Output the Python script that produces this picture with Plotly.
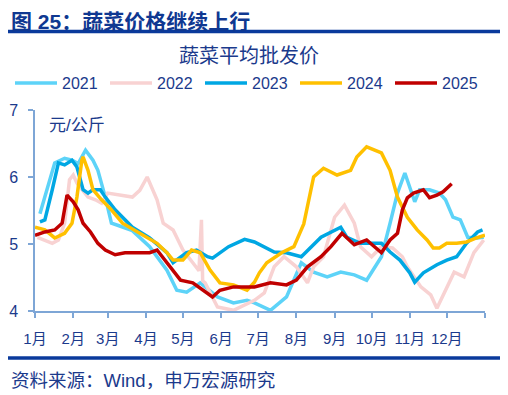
import plotly.graph_objects as go

# ---- data (day of year, price 元/公斤) ----
days_2021 = [4, 11, 16, 24, 30, 35, 41, 47, 51, 57, 62, 67, 79, 93, 107, 115, 123, 134, 148, 161, 172, 178,
             191, 204, 216, 226, 237, 248, 259, 269, 281, 288, 294, 300, 304, 308, 312, 320, 328, 333, 339,
             345, 351, 358, 364]
vals_2021 = [5.45, 5.91, 6.21, 6.28, 6.25, 6.2, 6.4, 6.25, 6.1, 5.7, 5.31, 5.28, 5.2, 4.96, 4.61, 4.31, 4.28,
             4.42, 4.21, 4.12, 4.16, 4.12, 4.01, 4.21, 4.72, 4.58, 4.51, 4.58, 4.54, 4.46, 4.81, 5.31, 5.76,
             6.06, 5.85, 5.63, 5.81, 5.81, 5.76, 5.66, 5.4, 5.36, 5.1, 5.09, 5.1]

days_2022 = [2, 8, 14, 19, 24, 28, 31, 34, 38, 43, 49, 54, 59, 71, 79, 85, 91, 99, 104, 112, 120, 128, 133,
             135, 136, 138, 148, 161, 178, 186, 194, 202, 212, 221, 226, 234, 243, 251, 259, 264, 273, 281,
             290, 298, 302, 313, 321, 326, 332, 340, 348, 356, 364]
vals_2022 = [5.1, 5.06, 5.01, 5.06, 5.31, 5.96, 6.03, 5.91, 5.81, 5.7, 5.66, 5.61, 5.76, 5.73, 5.7, 5.8, 6.0,
             5.66, 5.31, 5.21, 4.91, 4.72, 4.6, 5.36, 4.45, 4.42, 4.06, 4.01, 4.16, 4.27, 4.66, 4.81, 4.66,
             4.42, 4.66, 4.81, 5.4, 5.58, 5.31, 4.96, 4.81, 4.96, 4.94, 4.81, 4.66, 4.36, 4.24, 4.04, 4.27,
             4.58, 4.51, 4.87, 5.06]

days_2023 = [4, 8, 14, 19, 24, 30, 34, 39, 43, 47, 53, 57, 65, 73, 79, 93, 107, 112, 123, 131, 140, 144, 157,
             170, 178, 194, 204, 216, 232, 248, 253, 264, 281, 288, 296, 304, 308, 315, 326, 334, 342, 350,
             359, 363]
vals_2023 = [5.33, 5.36, 5.81, 6.21, 6.18, 6.25, 6.15, 5.81, 5.76, 5.81, 5.81, 5.7, 5.51, 5.36, 5.25, 5.09,
             4.87, 4.72, 4.87, 4.91, 4.81, 4.79, 4.96, 5.07, 5.03, 4.88, 4.87, 4.81, 5.1, 5.25, 5.1, 5.01,
             5.01, 4.88, 4.76, 4.57, 4.43, 4.57, 4.69, 4.76, 4.81, 5.01, 5.18, 5.21]

days_2024 = [0, 8, 16, 24, 30, 34, 38, 39, 43, 47, 54, 62, 71, 85, 99, 107, 112, 120, 127, 134, 142, 150,
             161, 172, 178, 182, 188, 200, 210, 218, 226, 234, 245, 256, 261, 269, 281, 288, 294, 302, 310,
             318, 323, 328, 334, 342, 350, 358, 365]
vals_2024 = [5.25, 5.21, 5.09, 5.16, 5.31, 5.7, 6.25, 6.3, 6.1, 5.81, 5.66, 5.51, 5.31, 5.16, 5.01, 4.87,
             4.76, 4.76, 4.91, 4.87, 4.61, 4.42, 4.39, 4.31, 4.43, 4.57, 4.72, 4.87, 4.96, 5.3, 6.0, 6.13,
             6.03, 6.1, 6.3, 6.45, 6.36, 6.1, 5.7, 5.4, 5.21, 5.06, 4.94, 4.94, 5.01, 5.01, 5.03, 5.09, 5.13]

days_2025 = [0, 8, 16, 22, 26, 31, 35, 39, 45, 51, 57, 65, 73, 79, 93, 99, 107, 118, 128, 140, 144, 150, 161,
             178, 191, 204, 212, 221, 232, 240, 249, 259, 269, 281, 288, 294, 298, 302, 307, 315, 320, 326,
             331, 338]
vals_2025 = [5.13, 5.18, 5.21, 5.31, 5.73, 5.63, 5.51, 5.31, 5.18, 5.01, 4.91, 4.84, 4.87, 4.87, 4.87, 4.91,
             4.72, 4.46, 4.42, 4.27, 4.21, 4.31, 4.36, 4.36, 4.42, 4.39, 4.46, 4.66, 4.81, 4.96, 5.16, 4.99,
             5.06, 4.87, 5.06, 5.16, 5.51, 5.69, 5.76, 5.81, 5.69, 5.73, 5.78, 5.9]

month_starts = [0, 31, 59, 90, 120, 151, 181, 212, 243, 273, 304, 334, 365]
month_labels = ["1月", "2月", "3月", "4月", "5月", "6月", "7月", "8月", "9月", "10月", "11月", "12月", ""]

series = [
    ("2021", days_2021, vals_2021, "#5DD3F8"),
    ("2022", days_2022, vals_2022, "#F8D2D2"),
    ("2023", days_2023, vals_2023, "#00A7E3"),
    ("2024", days_2024, vals_2024, "#FFC000"),
    ("2025", days_2025, vals_2025, "#C00000"),
]

FONT = "Arial, 'Liberation Sans', 'Noto Sans CJK SC', sans-serif"
DARK = "#1B3A8C"
AXIS = "#7EA6D6"

fig = go.Figure()
for name, d, v, c in series:
    fig.add_trace(go.Scatter(x=d, y=v, name=name, mode="lines",
                             line=dict(color=c, width=3.5)))

# page body adds an 8px offset, so the figure is 8px smaller and shifted
OFF = 8
W, H = 508 - OFF, 395 - OFF
L, R, T, B = 35 - OFF, 23, 110 - OFF, 84
pw, ph = W - L - R, H - T - B

def px(x):  # x in reference-window pixels -> paper
    return ((x - OFF) - L) / pw

def py(y):  # y in reference-window pixels -> paper
    return (H - B - (y - OFF)) / ph

fig.update_layout(
    width=W, height=H,
    margin=dict(l=L, r=R, t=T, b=B, pad=0, autoexpand=False),
    paper_bgcolor="white", plot_bgcolor="white",
    font=dict(family=FONT, color=DARK, size=15),
    showlegend=True,
    legend=dict(orientation="h", x=px(10), xanchor="left", y=py(83), yanchor="middle",
                font=dict(size=16, color=DARK), itemwidth=42, entrywidth=38,
                bgcolor="rgba(0,0,0,0)", tracegroupgap=0),
    xaxis=dict(range=[0, 365], tickmode="array", tickvals=month_starts, ticktext=month_labels,
               showgrid=False, zeroline=False, showline=True, linecolor=AXIS, linewidth=1.5,
               ticks="outside", ticklen=5, tickcolor=AXIS, tickwidth=1.5, automargin=False,
               tickfont=dict(size=15, color=DARK), ticklabelstandoff=8),
    yaxis=dict(range=[4, 7], tickvals=[4, 5, 6, 7], showgrid=False, zeroline=False,
               showline=True, linecolor=AXIS, linewidth=1.5, automargin=False,
               ticks="outside", ticklen=5, tickcolor=AXIS, tickwidth=1.5,
               tickfont=dict(size=16, color=DARK), ticklabelstandoff=7),
)

fig.add_annotation(text="<b>图 25：蔬菜价格继续上行</b>", xref="paper", yref="paper",
                   x=px(9), y=py(8), xanchor="left", yanchor="top", showarrow=False,
                   font=dict(size=21, color="#0F3891"))
fig.add_annotation(text="蔬菜平均批发价", xref="paper", yref="paper",
                   x=px(249), y=py(56), xanchor="center", yanchor="middle", showarrow=False,
                   font=dict(size=20, color=DARK))
fig.add_annotation(text="元/公斤", xref="paper", yref="paper",
                   x=px(47), y=py(125), xanchor="left", yanchor="middle", showarrow=False,
                   font=dict(size=17, color=DARK))
fig.add_annotation(text="资料来源：Wind，申万宏源研究", xref="paper", yref="paper",
                   x=px(9), y=py(380), xanchor="left", yanchor="middle", showarrow=False,
                   font=dict(size=18.5, color=DARK))

for yy in (31.5, 358):
    fig.add_shape(type="line", xref="paper", yref="paper", x0=px(3), x1=px(505),
                  y0=py(yy), y1=py(yy), line=dict(color="#0A3A9C", width=3.5))

fig.write_html("out.html")
